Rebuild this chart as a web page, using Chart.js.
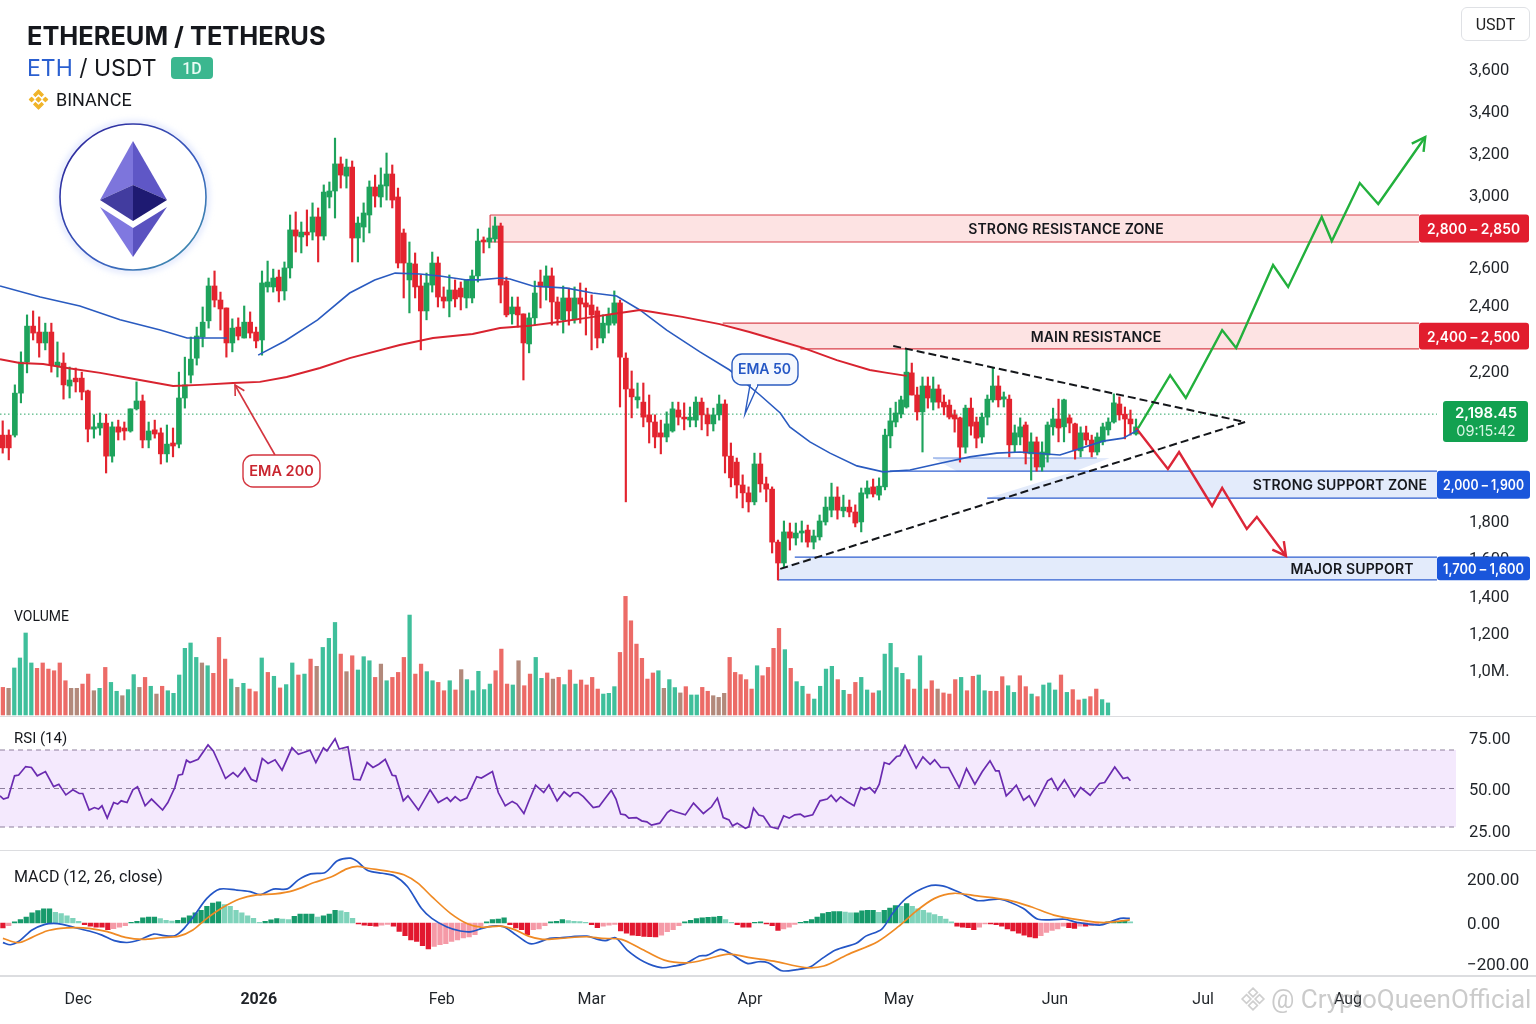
<!DOCTYPE html>
<html>
<head>
<meta charset="utf-8">
<title>ETH / USDT</title>
<script src="https://cdn.jsdelivr.net/npm/chart.js@4/dist/chart.umd.min.js"></script>
<style>
  html, body { margin: 0; padding: 0; background: #fff; }
  #page { position: relative; width: 1536px; height: 1024px; overflow: hidden; font-family: Inter, Roboto, sans-serif; color: #16181d; }
  #page canvas { position: absolute; left: 0; top: 0; }
  .rule { position: absolute; left: 0; width: 1536px; height: 1px; background: #dcdde0; }
  .txt { position: absolute; white-space: nowrap; line-height: 1; }
  #usdt { position: absolute; left: 1461px; top: 7px; width: 67px; height: 32px; border: 1px solid #dfe1e5; border-radius: 6px; text-align: center; font: 16px/33px Roboto, sans-serif; color: #222; }
  #tf { position: absolute; left: 171px; top: 57px; width: 42px; height: 22px; background: #3bb78f; border-radius: 4px; color: #e8fbf4; text-align: center; font: 500 16px/23px Roboto, sans-serif; }
</style>
</head>
<body>
<div id="page">
  <canvas id="priceChart" width="1536" height="1024"></canvas>
  <canvas id="volumeChart" width="1536" height="1024"></canvas>
  <canvas id="rsiChart" width="1536" height="1024"></canvas>
  <canvas id="macdChart" width="1536" height="1024"></canvas>

  <div class="rule" style="top:716px"></div>
  <div class="rule" style="top:850px"></div>
  <div class="rule" style="top:975px;height:2px"></div>

  <div class="txt" style="left:27px;top:23px;font-size:25.4px;font-weight:700;">ETHEREUM / TETHERUS</div>
  <div class="txt" style="left:27px;top:57px;font-size:23px;font-weight:400;"><span style="color:#2a5fd0">ETH</span> / USDT</div>
  <div id="tf">1D</div>
  <svg style="position:absolute;left:27px;top:88px" width="23" height="23" viewBox="0 0 24 24">
    <g fill="#f0b429" stroke="#f0b429" stroke-width="1.200" stroke-linejoin="round">
      <path d="M12 2l5 5-1.800 1.800L12 5.600 8.800 8.800 7 7z"/>
      <path d="M12 22l-5-5 1.800-1.800 3.200 3.200 3.200-3.200L17 17z"/>
      <path d="M2.500 12l2.300-2.300L7.100 12l-2.300 2.300z"/>
      <path d="M21.500 12l-2.300 2.300-2.300-2.300 2.300-2.300z"/>
      <path d="M12 9.500l2.500 2.500-2.500 2.500L9.500 12z"/>
    </g>
  </svg>
  <div class="txt" style="left:56px;top:91px;font:18px Roboto,sans-serif;line-height:1;">BINANCE</div>
  <div id="usdt">USDT</div>

  <svg style="position:absolute;left:50px;top:114px" width="166" height="166" viewBox="50 114 166 166">
    <defs>
      <linearGradient id="ring" x1="0" y1="0" x2="1" y2="1">
        <stop offset="0" stop-color="#2b1f96"/><stop offset=".6" stop-color="#3a5fc0"/><stop offset="1" stop-color="#3f9aa8"/>
      </linearGradient>
      <filter id="glow" x="-20%" y="-20%" width="140%" height="140%">
        <feGaussianBlur stdDeviation="3"/>
      </filter>
    </defs>
    <circle cx="133" cy="197" r="74" fill="none" stroke="#c9d4fb" stroke-width="3" filter="url(#glow)"/>
    <circle cx="133" cy="197" r="73" fill="#fff" stroke="url(#ring)" stroke-width="1.600"/>
    <polygon points="133,141 100,200 133,185" fill="#7d75dc"/>
    <polygon points="133,141 167,200 133,185" fill="#5f57c6"/>
    <polygon points="100,200 133,185 133,221" fill="#423c9f"/>
    <polygon points="167,200 133,185 133,221" fill="#1e1a72"/>
    <polygon points="100,207 133,228 133,257" fill="#8078e0"/>
    <polygon points="167,207 133,228 133,257" fill="#5a52c0"/>
  </svg>

  <div class="txt" style="left:14px;top:609px;font:14px Roboto,sans-serif;line-height:1;">VOLUME</div>
  <div class="txt" style="left:14px;top:731px;font:15px Roboto,sans-serif;line-height:1;">RSI (14)</div>
  <div class="txt" style="left:14px;top:869px;font:16px Roboto,sans-serif;line-height:1;">MACD (12, 26, close)</div>

  <svg style="position:absolute;left:1240px;top:986px" width="26" height="26" viewBox="0 0 24 24" fill="none" stroke="#cfcfcf" stroke-width="1.600">
    <path d="M12 2l4 4-4 4-4-4zM6 8l4 4-4 4-4-4zM18 8l4 4-4 4-4-4zM12 14l4 4-4 4-4-4z"/>
  </svg>
  <div class="txt" style="left:1271px;top:986px;font:26px Roboto,sans-serif;line-height:1;color:rgba(130,130,130,.42);">@ CryptoQueenOfficial</div>
</div>

<script>
// Candles, one row per ten days.
const candleOpen = [
  2029,2029,2029,2141,2227,2336,2318,2285,2318,2215,
  2224,2160,2181,2181,2147,2045,2048,2061,1973,2051,
  2048,2040,2099,2120,2016,2043,2035,1979,2008,2005,
  2128,2189,2239,2303,2352,2500,2426,2391,2285,2333,
  2300,2348,2318,2294,2495,2495,2547,2474,2595,2806,
  2767,2794,2794,2878,2772,2989,3019,3148,3090,3133,
  2761,2822,2889,3038,2989,3043,3100,2989,2789,2532,
  2617,2500,2382,2505,2622,2442,2421,2479,2489,2437,
  2437,2553,2750,2739,2756,2828,2526,2373,2394,2373,
  2282,2361,2521,2495,2553,2416,2355,2437,2355,2437,
  2411,2400,2382,2300,2339,2345,2411,2239,2152,2123,
  2117,2083,2064,2035,2024,2040,2096,2077,2069,2069,
  2117,2083,2059,2083,2112,1973,1957,1896,1875,1851,
  1952,1899,1885,1686,1573,1741,1708,1735,1751,1686,
  1714,1795,1829,1864,1827,1837,1824,1795,1872,1891,
  1869,1891,2027,2064,2085,2104,2195,2136,2091,2160,
  2117,2152,2117,2109,2083,2075,1997,2101,2064,2024,
  2077,2123,2160,2125,2125,2003,2024,2056,1979,2011,
  1944,1976,2051,2072,2051,2075,2059,1987,2035,2016,
  1984,2011,2043,2064,2112,2085,2072,2032
];
const candleHigh = [
  2067,2043,2163,2258,2370,2382,2364,2345,2345,2288,
  2255,2212,2209,2197,2149,2083,2088,2085,2064,2069,
  2064,2099,2171,2136,2064,2069,2048,2056,2048,2197,
  2242,2303,2333,2394,2542,2579,2468,2391,2358,2361,
  2397,2379,2333,2579,2633,2589,2584,2628,2889,2906,
  2850,2917,2956,2928,3048,3062,3271,3181,3171,3162,
  2878,2956,3067,3095,3129,3200,3143,3033,2811,2739,
  2678,2558,2568,2683,2656,2495,2558,2532,2521,2532,
  2584,2811,2767,2817,2878,2844,2547,2442,2442,2373,
  2376,2526,2584,2606,2595,2442,2500,2489,2495,2516,
  2489,2453,2394,2370,2391,2474,2426,2255,2200,2168,
  2168,2136,2083,2069,2091,2117,2117,2115,2104,2131,
  2128,2101,2101,2136,2123,2008,1968,1923,1891,1981,
  1981,1917,1891,1697,1800,1789,1789,1800,1778,1751,
  1816,1864,1901,1891,1869,1856,1843,1888,1907,1912,
  1915,2045,2101,2117,2133,2264,2224,2157,2184,2184,
  2184,2163,2136,2123,2096,2077,2109,2128,2077,2088,
  2136,2209,2187,2144,2136,2056,2075,2064,2035,2024,
  2011,2064,2101,2125,2125,2083,2061,2051,2053,2029,
  2035,2061,2075,2139,2131,2104,2096,2072
];
const candleLow = [
  1981,1963,2024,2115,2195,2294,2242,2264,2197,2184,
  2125,2128,2144,2123,2011,2021,2029,1928,1957,2016,
  2016,2037,2096,1995,1995,2021,1952,1957,1971,1995,
  2101,2168,2218,2273,2330,2394,2324,2242,2258,2294,
  2300,2300,2270,2248,2468,2468,2416,2426,2542,2683,
  2678,2717,2750,2628,2750,2928,2872,3033,3033,2628,
  2628,2739,2789,2933,2933,2972,2928,2595,2437,2376,
  2437,2264,2355,2468,2394,2391,2364,2394,2385,2391,
  2411,2521,2678,2706,2739,2411,2364,2342,2333,2176,
  2255,2339,2391,2426,2339,2339,2315,2339,2345,2345,
  2309,2264,2270,2285,2315,2339,2104,1851,2075,2101,
  2051,2008,1995,1979,2011,2037,2056,2043,2051,2051,
  2043,2027,2040,2069,1928,1891,1861,1835,1824,1843,
  1877,1851,1627,1481,1551,1643,1670,1686,1659,1649,
  1697,1778,1811,1805,1811,1811,1768,1741,1861,1864,
  1856,1883,1995,2051,2075,2101,2136,2069,1984,2101,
  2096,2101,2083,2072,2037,1957,1981,2029,1995,2008,
  2056,2117,2104,2104,1971,1984,2003,1952,1909,1933,
  1933,1957,2029,2011,2011,2035,1965,1971,2003,1971,
  1976,2003,2029,2061,2069,2019,2029,2029
];
const candleClose = [
  1995,1995,2141,2227,2336,2315,2285,2318,2218,2227,
  2163,2176,2171,2144,2045,2051,2061,1973,2051,2037,
  2040,2099,2120,2016,2040,2032,1979,2005,2000,2128,
  2163,2236,2306,2348,2500,2426,2388,2285,2330,2306,
  2348,2315,2291,2516,2521,2542,2474,2595,2806,2772,
  2794,2778,2878,2772,3014,3019,3148,3095,3133,2761,
  2844,2900,3038,2994,3048,3100,2972,2622,2622,2622,
  2495,2382,2516,2622,2442,2421,2479,2432,2442,2532,
  2553,2744,2739,2761,2828,2505,2370,2394,2370,2285,
  2361,2463,2495,2553,2416,2358,2437,2382,2437,2405,
  2394,2370,2300,2345,2370,2411,2242,2152,2131,2131,
  2077,2064,2024,2024,2059,2099,2077,2072,2077,2117,
  2083,2059,2083,2112,1973,1915,1896,1875,1851,1952,
  1899,1885,1686,1573,1741,1708,1735,1746,1686,1719,
  1800,1837,1864,1829,1837,1824,1789,1875,1888,1872,
  1893,2029,2067,2088,2123,2197,2136,2091,2160,2128,
  2152,2117,2104,2077,2072,1997,2101,2053,2021,2077,
  2125,2160,2123,2131,2003,2035,2051,1981,2011,1944,
  1984,2056,2072,2048,2123,2061,1989,2035,2016,1984,
  2024,2051,2064,2115,2083,2072,2059,2051
];

const ema50Index = [-0.5,6.4,13.2,20.1,27,31.6,38.4,39,43.8,48.4,54,59.5,63.8,67.3,71.5,75,79.6,81.8,85.3,87,90.9,96.8,101.2,105.3,109.3,113.9,119.6,124.7,129.9,133.4,135.1,138.7,142.3,147.1,151.8,156.6,161.4,167.3,172.1,176.3,183.4,191.1,194.7,197.4];
const ema50Values = [2500,2442,2397,2355,2324,2300,2300,null,2248,2291,2355,2463,2532,2568,2563,2553,2532,2532,2542,2537,2500,2489,2463,2447,2385,2324,2258,2203,2136,2088,2051,2011,1981,1947,1931,1936,1952,1971,1981,1984,1976,2013,2021,2043];
const ema200Index = [-0.5,2.9,6.9,11,16.7,23.5,29.2,33.8,39.5,44.1,48.7,54.4,59.5,68.1,73.8,80.6,85.3,89.9,95,100.2,104.6,107,109.3,111.5,116.6,123,128.1,131.6,137.5,143.5,149.4,152.5,156];
const ema200Values = [2236,2224,2221,2209,2195,2176,2160,2163,2168,2171,2184,2209,2239,2279,2300,2312,2330,2336,2348,2361,2373,2379,2385,2379,2364,2342,2318,2300,2270,2233,2203,2195,2187];

const wedgeUpperIndex = [153.6,216.5];
const wedgeUpperValues = [2276,2064];
const wedgeLowerIndex = [133.4,216.5];
const wedgeLowerValues = [1541,2064];

const bullPathIndex = [197.4,203.1,205.9,212.4,214.9,221.5,224.2,230.2,232,237,240.3,248.7];
const bullPathValues = [2048,2189,2128,2324,2270,2611,2495,2878,2744,3057,2950,3276];
const bearPathIndex = [197,202.7,204.7,210.6,212.4,216.8,218.6,223.8];
const bearPathValues = [2048,1939,1984,1840,1888,1757,1811,1611];

const zoneNames = ['STRONG RESISTANCE ZONE','MAIN RESISTANCE','STRONG SUPPORT ZONE','MAJOR SUPPORT'];
const zoneRanges = ['2,800 – 2,850','2,400 – 2,500','2,000 – 1,900','1,700 – 1,600'];
const zoneHigh = [2889,2345,1933,1605];
const zoneLow = [2739,2267,1861,1482];
const zoneHighFrom = [83.6,123.5,153,136];
const zoneLowFrom = [83.6,137,170.4,133];
const zoneTo = [247.6,247.6,250.8,250.8];

const priceLevel = 2085;
const lastPriceText = '2,198.45';
const countdownText = '09:15:42';

const priceTicks = [3600,3400,3200,3000,2800,2600,2400,2200,1800,1600];
const priceTickLabels = ['3,600','3,400','3,200','3,000','2,800','2,600','2,400','2,200','1,800','1,600'];

const monthTicks = [12.9,43.9,75.3,101,128.2,154.6,182.5,209,234.9];
const monthLabels = ['Dec','2026','Feb','Mar','Apr','May','Jun','Jul','Aug'];

const volumeValues = [
  906,901,1011,1065,1200,1038,1009,1038,1005,996,
  1038,942,901,901,924,978,888,901,1014,933,
  885,861,894,975,906,960,912,870,912,888,
  874,973,1117,1146,1068,1038,1023,982,1176,1059,
  951,906,928,897,883,1065,987,966,903,921,
  1038,973,978,1059,1020,1122,1171,1257,1086,991,
  1077,1000,1072,1050,960,1032,942,960,987,1068,
  1297,978,1032,991,942,933,888,942,892,1002,
  948,888,993,894,924,996,1113,924,919,1050,
  915,978,1068,955,984,951,960,921,1000,924,
  946,919,960,897,870,874,910,1095,1398,1266,
  1140,1063,951,984,996,901,948,905,876,910,
  865,865,906,885,861,852,874,1068,987,975,
  948,897,1023,969,1014,1117,1225,1110,1009,937,
  912,870,843,912,1005,1020,948,890,869,933,
  960,892,876,888,1086,1144,1013,982,948,897,
  1077,897,942,897,876,870,948,960,888,966,
  973,888,885,885,964,915,879,969,910,870,
  856,919,930,892,973,879,894,838,843,856,
  897,840,822
];
// G green, R red, B the muddy bars where both colours blend
const volumeSides = 'RBGGGGRRRRRRBBRRBGRGGBGGBRGBRGGGGGGBGRRRGBGRRGRGRGGRGRBGGGRBRGGGRBGRRRGRRGGRRGRBGGGGGRRRGBRRGGRBRGRGRRRRGGGRRRRRRRGBGGBRGGRRBBBRRRRRGRRRRGRGGRGGGGRGRRGGRGGGGGRRGRRBRRRGRRGGRRRGGRRGRGGGRGRRGRRGGB';
const volumeTicks = [1400,1200,1000];
const volumeTickLabels = ['1,400','1,200','1,0M.'];
const volumeFloor = 757;

const rsiIndex = [-0.5,0.1,0.9,2,2.7,3.9,4.9,5.9,7.3,8.7,9.6,10.8,12,13.1,13.7,14.8,15.7,16.4,17,17.9,19,19.7,20.3,21.3,22.3,23.1,24.4,25.5,27.4,28.3,29.5,30.1,30.8,31.5,32.1,33.5,35.2,36.1,37,38.2,39.5,40.3,41.5,42.6,43.5,44.5,45.5,46.7,47.9,49.6,50.7,51.6,52.7,53.7,55,55.6,57,57.7,59.2,60.2,61.3,62.5,63.5,64.5,65.6,66.8,67.4,68.7,69.5,71.3,73.3,74.7,76.2,76.8,77.6,78.5,79.6,81.3,82.1,84,85,86.2,87.4,88.2,89.4,90.2,91.4,92.8,93.7,95.1,96.3,97.3,97.9,98.7,99.6,101.3,102.3,103.1,104.4,105.2,106,106.8,107.4,108.7,109.6,110.5,111.3,112.7,114,114.6,115.4,117.1,118.5,120.2,121.6,122.6,123.6,124.6,125.2,126,127.4,128,128.8,129.7,130.5,131.7,133,134,135,136,137,137.7,139.2,140.5,141.8,142.5,143.4,144.2,145.4,146.6,147.8,148.5,149.4,150.3,151.1,152,152.9,154.2,154.8,155.7,157.7,158.9,160.2,161,162.1,163.5,165.4,166.7,168.2,169.5,170.9,171.9,172.5,173.8,174.7,175.6,176.9,177.9,178.9,181.2,181.9,183,184.2,186,187.1,188.8,190.5,191.4,193.2,194.7,195.5,196];
const rsiValues = [46.2,44.5,45.3,56.6,57,61.4,60.9,56.6,58.8,51,52.2,46.7,49.3,47.4,47.4,38.8,40.1,39.3,41,34.6,42.7,41.9,43.6,42.7,49.3,50.9,41,44.5,38.8,42.7,50.5,56.9,57.4,64.7,63.5,65.2,72.1,69.5,63.5,55.2,58.3,56.1,60.6,54.8,53.6,65.6,63,64.9,59.5,70.9,67.8,68.7,69.9,63.5,70.9,69.5,74.7,70.4,71.3,54.8,54.5,63.5,60.9,62.6,65.1,56.9,56.6,43.6,46.2,38.8,49.3,42.7,45.3,43.3,45.8,43.6,45,56.1,55.4,58.8,47.9,41,43.3,41.9,37,43.1,51.7,47.9,51.9,43.6,48.3,45.8,47.8,47.9,45.8,40.1,40.7,43.9,49.1,44.5,36.7,36.3,34.6,34.9,33.2,32.7,31,32,37.5,38.8,37.9,36.3,42.4,37,40.5,45,34.9,33.7,30.6,32,28.4,30.1,39.8,36.2,35.6,30.1,27.7,35.8,34.6,36.3,36.7,35.3,36.3,43.6,44.5,46.5,43.3,45.7,43.1,41,50.5,49.3,50.5,47.8,52.2,63.5,62.6,66.6,67,71.8,60.6,66.4,62.6,64.9,60.9,60.9,50.5,60.4,52.2,58.7,64.4,59.2,59.2,46.2,48.8,51.7,43.9,46.2,41,54,55.2,49.3,54.5,45.7,50.5,46.5,52.6,53.1,61.2,55.2,55.7,54];
const rsiLevels = [70,50,30];
const rsiTicks = [75,50,25];
const rsiTickLabels = ['75.00','50.00','25.00'];

const macdIndex = [0,1.3,2.9,5,7.2,8.7,10.2,12.4,14.8,17,19.1,21.3,23.4,25.9,27.7,29.5,31.1,32.9,35,37.2,40,42.4,44.2,46.4,48.8,50.7,52.8,55.3,57.4,59.6,60.8,62.6,65.1,67.2,69.4,71.8,73.6,76.1,78.5,80.4,82.2,84,85.9,87.7,90.2,91.4,93.8,95.6,97.5,100.2,102.1,103.4,105.1,107.1,110,113,115.3,117.2,119.5,120.8,123.1,124.8,127.7,129.7,131.3,133.7,136.4,138.8,140.5,143.3,147,148.7,151.5,153.5,155.9,159.7,162.4,165.1,168.6,172.7,176.8,179.5,184.3,186.4,190.5,192.5,194.2,195.9];
const macdValues = [-96,-106,-86,-34,-7,-2,-7,-23,-39,-59,-86,-95,-83,-54,-62,-62,-26,36,112,154,150,143,129,154,155,196,223,230,283,295,280,239,226,214,166,67,21,-18,-39,-42,-26,-15,-18,-51,-99,-99,-75,-72,-67,-64,-80,-86,-72,-132,-189,-218,-209,-197,-161,-158,-129,-148,-197,-189,-194,-233,-227,-214,-181,-132,-99,-64,-31,44,112,166,169,143,102,108,67,17,17,3,-10,6,21,21];
const signalIndex = [0,2.6,5,7.5,9.9,12.4,14.8,17.9,21,24,27.1,30.2,32.6,35,37.5,40.6,43.6,46.7,49.8,53.4,56.5,59,60.8,62.6,66.4,68.8,71.2,73.6,76.8,79.8,82.2,85.3,87.7,90.2,92.6,95.6,100.2,102.8,106.1,109.4,113.5,117.6,121.2,124.5,128.4,132.3,137.8,141.2,145.3,150.8,154.5,157.6,161,164.4,168.6,174,178.2,182.3,187,191.2,195.9];
const signalValues = [-75,-96,-70,-39,-26,-23,-26,-42,-70,-80,-72,-64,-34,21,67,109,128,132,147,184,211,246,257,249,234,219,181,120,44,-5,-21,-15,-31,-64,-80,-75,-67,-75,-80,-124,-181,-194,-173,-152,-170,-186,-217,-210,-156,-91,-18,52,112,135,123,105,74,36,14,2,14];
const histValues = [
  -24,-13,5,15,27,46,56,64,64,49,
  43,33,21,8,-8,-16,-20,-20,-33,-28,
  -20,-13,3,8,23,27,27,20,12,9,
  12,23,33,46,58,76,91,96,84,76,
  58,46,33,21,3,8,14,20,18,15,
  30,40,40,40,27,33,40,58,55,49,
  21,-5,-11,-13,-16,-11,-7,-16,-41,-62,
  -82,-90,-111,-127,-114,-106,-101,-90,-82,-73,
  -68,-57,-16,5,15,18,23,-8,-24,-33,
  -57,-33,-29,-13,5,8,15,11,8,6,
  3,-8,-23,-16,-10,-7,-39,-49,-59,-62,
  -65,-67,-68,-59,-42,-33,-13,5,12,20,
  24,26,27,30,15,3,-8,-20,-20,3,
  5,-5,-13,-36,-29,-20,-7,3,8,15,
  27,43,49,52,52,50,46,46,55,58,
  58,49,58,68,79,76,88,76,64,58,
  46,38,30,18,5,-16,-20,-23,-33,-20,
  -5,-5,-8,-16,-29,-39,-49,-59,-68,-73,
  -62,-46,-36,-29,-16,-23,-26,-16,-16,-13,
  -8,3,5,5,8,9,5
];
const macdTicks = [200,0,-200];
const macdTickLabels = ['200.00','0.00','−200.00'];

// value -> page pixel, the axes of the picture are not evenly spaced
const axisKnots = {
  x: [[-0.5,0],[133,778],[197,1136],[254.2,1456]],
  candleX: [[-0.5,-0.2],[0,2.7],[28,173],[43,262],[56,335],[67,398],[85,500.7],[106,620],[124,725],[133,778],[151,885],[165,960],[184,1064],[197,1136]],
  volumeX: [[0,2.9],[38,219],[57,335],[70,409.6],[97,564.4],[108,625.5],[136,779],[192,1108]],
  price: [[3800,27],[3600,69],[3400,111],[3200,153],[3000,195],[2800,231],[2600,267],[2400,305],[2200,371],[1800,521],[1600,558]],
  volume: [[1400,596],[1200,633],[1000,670]],
  rsi: [[75,738],[70,750],[30,827],[25,831]],
  macd: [[200,879],[0,923],[-200,964]]
};

class PiecewiseScale extends Chart.LinearScale {
  getPixelForValue(value) {
    if (value === null || value === undefined || isNaN(value)) return NaN;
    const k = axisKnots[this.id];
    const up = k[0][0] < k[k.length - 1][0];
    let i = 0;
    while (i < k.length - 2 && (up ? value > k[i + 1][0] : value < k[i + 1][0])) i++;
    const a = k[i], b = k[i + 1];
    return a[1] + (value - a[0]) * (b[1] - a[1]) / (b[0] - a[0]);
  }
  getValueForPixel(pixel) {
    const k = axisKnots[this.id];
    let i = 0;
    while (i < k.length - 2 && pixel > k[i + 1][1]) i++;
    const a = k[i], b = k[i + 1];
    return a[0] + (pixel - a[1]) * (b[0] - a[0]) / (b[1] - a[1]);
  }
}
PiecewiseScale.id = 'piecewise';
PiecewiseScale.defaults = Chart.LinearScale.defaults;
Chart.register(PiecewiseScale);

const RED = '#e3242f';
const GREEN = '#1ea35c';
const TICK_COLOR = '#1f2328';

function xAxis(show) {
  return {
    type: 'piecewise', axis: 'x', min: -0.5, max: 254.2, display: show,
    grid: { display: false, drawTicks: false },
    border: { display: false },
    afterFit: s => { s.height = 49; },
    afterBuildTicks: s => { s.ticks = monthTicks.map(v => ({ value: v })); },
    ticks: {
      autoSkip: false, maxRotation: 0, padding: 15, color: TICK_COLOR,
      font: c => ({ family: 'Roboto', size: 16, weight: c.index === 1 ? '700' : '400' }),
      callback: (v, i) => monthLabels[i]
    }
  };
}

function yAxis(min, max, ticks, labels, padding, size) {
  return {
    type: 'piecewise', axis: 'y', position: 'right', min, max,
    grid: { display: false, drawTicks: false },
    border: { display: false },
    afterFit: s => { s.width = 80; },
    afterBuildTicks: s => { s.ticks = ticks.map(v => ({ value: v })); },
    ticks: {
      autoSkip: false, padding, color: TICK_COLOR, labelOffset: 2,
      font: { family: 'Roboto', size: size || 16.5 },
      callback: (v, i) => labels[i]
    }
  };
}

function baseOptions(yId, yOpts, showX, xId) {
  return {
    responsive: false,
    animation: false,
    events: [],
    layout: { padding: 0 },
    plugins: { legend: { display: false }, tooltip: { enabled: false } },
    scales: { [xId || 'x']: xAxis(showX), [yId]: yOpts }
  };
}

function lineSet(yId, xs, ys, color, width, extra) {
  return Object.assign({
    type: 'line',
    yAxisID: yId,
    data: xs.map((x, i) => ({ x, y: ys[i] })),
    borderColor: color,
    borderWidth: width,
    pointRadius: 0,
    tension: 0,
    spanGaps: false,
    order: 0
  }, extra || {});
}

function roundBox(ctx, x, y, w, h, r, fill, stroke) {
  ctx.beginPath();
  ctx.roundRect(x, y, w, h, r);
  if (fill) { ctx.fillStyle = fill; ctx.fill(); }
  if (stroke) { ctx.strokeStyle = stroke; ctx.stroke(); }
}

function arrowHead(ctx, fromX, fromY, toX, toY, size, color, width) {
  const a = Math.atan2(toY - fromY, toX - fromX);
  ctx.strokeStyle = color;
  ctx.lineWidth = width;
  ctx.beginPath();
  ctx.moveTo(toX - size * Math.cos(a - 0.5), toY - size * Math.sin(a - 0.5));
  ctx.lineTo(toX, toY);
  ctx.lineTo(toX - size * Math.cos(a + 0.5), toY - size * Math.sin(a + 0.5));
  ctx.stroke();
}

// Price zones sit under the candles
const zonesPlugin = {
  id: 'zones',
  beforeDatasetsDraw(chart) {
    const { ctx, scales } = chart;
    const X = v => scales.x.getPixelForValue(v);
    const Y = v => scales.price.getPixelForValue(v);
    const hLine = (from, to, value, color) => {
      ctx.strokeStyle = color;
      ctx.lineWidth = 1.2;
      ctx.beginPath();
      ctx.moveTo(X(from), Y(value));
      ctx.lineTo(X(to), Y(value));
      ctx.stroke();
    };
    const poly = (pts, fill) => {
      ctx.fillStyle = fill;
      ctx.beginPath();
      pts.forEach((p, i) => i ? ctx.lineTo(X(p[0]), Y(p[1])) : ctx.moveTo(X(p[0]), Y(p[1])));
      ctx.closePath();
      ctx.fill();
    };
    ctx.save();
    poly([[zoneHighFrom[0], zoneHigh[0]], [zoneTo[0], zoneHigh[0]], [zoneTo[0], zoneLow[0]], [zoneLowFrom[0], zoneLow[0]]], '#fde3e3');
    poly([[zoneHighFrom[1], zoneHigh[1]], [zoneTo[1], zoneHigh[1]], [zoneTo[1], zoneLow[1]], [zoneLowFrom[1], zoneLow[1]]], '#fde3e3');
    poly([[zoneLowFrom[2], zoneLow[2]], [186.1, zoneHigh[2]], [zoneTo[2], zoneHigh[2]], [zoneTo[2], zoneLow[2]]], '#e3ebfb');
    poly([[zoneLowFrom[3], zoneLow[3]], [zoneLowFrom[3], 1541], [138.7, zoneHigh[3]], [zoneTo[3], zoneHigh[3]], [zoneTo[3], zoneLow[3]]], '#e3ebfb');
    poly([[160.7, 1968], [192.3, 1968], [186.1, 1933], [165, 1933]], '#e3ebfb');
    hLine(160.7, 190, 1968, '#6f94e0');
    [0, 1, 2, 3].forEach(i => {
      const c = i < 2 ? '#d9404a' : '#2f5fd0';
      hLine(zoneHighFrom[i], zoneTo[i], zoneHigh[i], c);
      hLine(zoneLowFrom[i], zoneTo[i], zoneLow[i], c);
    });
    // left edges of the first and last zone
    ctx.strokeStyle = '#d9404a';
    ctx.beginPath();
    ctx.moveTo(X(zoneHighFrom[0]), Y(zoneHigh[0]));
    ctx.lineTo(X(zoneLowFrom[0]), Y(zoneLow[0]));
    ctx.stroke();
    ctx.strokeStyle = '#e3242f';
    ctx.beginPath();
    ctx.moveTo(X(zoneLowFrom[3]), Y(1541));
    ctx.lineTo(X(zoneLowFrom[3]), Y(zoneLow[3]));
    ctx.stroke();
    ctx.restore();
  },
  afterDraw(chart) {
    const { ctx, scales } = chart;
    const X = v => scales.x.getPixelForValue(v);
    const Y = v => scales.price.getPixelForValue(v);
    ctx.save();
    ctx.textBaseline = 'middle';

    // arrow tips
    const tip = (xs, ys, size, color) => {
      const n = xs.length - 1;
      arrowHead(ctx, X(xs[n - 1]), Y(ys[n - 1]), X(xs[n]), Y(ys[n]), size, color, 2.4);
    };
    tip(bullPathIndex, bullPathValues, 15, '#22b03c');
    tip(bearPathIndex, bearPathValues, 15, '#dc2638');

    // zone captions and tags
    const nameX = [1066, 1096, 1340, 1352];
    const tagX = [1419, 1419, 1437, 1437];
    const tagW = [110, 110, 93, 93];
    const rangeW = [93, 93, 81, 81];
    zoneNames.forEach((name, i) => {
      const top = Y(zoneHigh[i]), bottom = Y(zoneLow[i]);
      const mid = (top + bottom) / 2 + 1.5;
      ctx.fillStyle = '#16181d';
      ctx.textAlign = 'center';
      ctx.font = '600 14px Inter, sans-serif';
      ctx.letterSpacing = '0.15px';
      ctx.fillText(name, nameX[i], mid);
      ctx.letterSpacing = '0px';
      roundBox(ctx, tagX[i], top - 0.5, tagW[i], bottom - top + 1, 3, i < 2 ? '#e11d2e' : '#1a56db');
      ctx.fillStyle = '#fff';
      ctx.font = '600 14.5px Inter, sans-serif';
      ctx.fillText(zoneRanges[i], tagX[i] + (i < 2 ? 54.5 : tagW[i] / 2), mid, rangeW[i]);
    });

    // last price tag
    roundBox(ctx, 1443, 401, 85, 41, 3, '#12a150');
    ctx.fillStyle = '#fff';
    ctx.textAlign = 'center';
    ctx.font = '600 15px Inter, sans-serif';
    ctx.fillText(lastPriceText, 1486, 413);
    ctx.fillStyle = '#d8f5e4';
    ctx.font = '14.5px Inter, sans-serif';
    ctx.fillText(countdownText, 1486, 432);

    // EMA 200 callout
    ctx.lineWidth = 1.6;
    ctx.strokeStyle = '#d4353f';
    ctx.beginPath();
    ctx.moveTo(275, 455);
    ctx.lineTo(235, 385);
    ctx.stroke();
    arrowHead(ctx, 275, 455, 235, 385, 11, '#d4353f', 1.6);
    ctx.lineWidth = 1.4;
    roundBox(ctx, 243, 455, 77, 32, 10, '#fff', '#d4353f');
    ctx.fillStyle = '#c9252f';
    ctx.font = '600 14.5px Inter, sans-serif';
    ctx.fillText('EMA 200', 281.5, 471.5);

    // EMA 50 callout
    ctx.strokeStyle = '#2a5bc0';
    ctx.lineWidth = 1.4;
    ctx.beginPath();
    ctx.moveTo(750, 385);
    ctx.lineTo(745, 414);
    ctx.lineTo(758, 385);
    ctx.stroke();
    roundBox(ctx, 732, 354, 66, 31, 10, '#f4f8fe', '#2a5bc0');
    ctx.fillStyle = '#f4f8fe';
    ctx.fillRect(751, 383, 6, 4);
    ctx.fillStyle = '#2457c5';
    ctx.font = '600 14px Inter, sans-serif';
    ctx.fillText('EMA 50', 764.5, 370);
    ctx.restore();
  }
};

const candleIndex = candleOpen.map((_, i) => i);
const candleColors = candleIndex.map(i => candleClose[i] >= candleOpen[i] ? GREEN : RED);

const priceOptions = baseOptions('price', yAxis(1300, 3900, priceTicks, priceTickLabels, 13), false);
priceOptions.scales.candleX = xAxis(false);

new Chart(document.getElementById('priceChart'), {
  type: 'bar',
  data: {
    datasets: [
      {
        xAxisID: 'candleX', yAxisID: 'price', order: 3, grouped: false, barThickness: 1.5, borderWidth: 0,
        backgroundColor: candleColors,
        data: candleIndex.map(i => ({ x: i, y: [candleLow[i], candleHigh[i]] }))
      },
      {
        xAxisID: 'candleX', yAxisID: 'price', order: 2, grouped: false, barThickness: 5, borderWidth: 0, minBarLength: 1.5,
        backgroundColor: candleColors,
        data: candleIndex.map(i => ({ x: i, y: [candleOpen[i], candleClose[i]] }))
      },
      lineSet('price', [-0.5, 250.8], [priceLevel, priceLevel], '#2aa565', 1, { borderDash: [1.5, 2.5], order: 4 }),
      lineSet('price', ema200Index, ema200Values, '#d8232f', 2),
      lineSet('price', ema50Index, ema50Values, '#2a5bc0', 1.6),
      lineSet('price', wedgeUpperIndex, wedgeUpperValues, '#14161a', 2, { borderDash: [8, 4] }),
      lineSet('price', wedgeLowerIndex, wedgeLowerValues, '#14161a', 2, { borderDash: [8, 4] }),
      lineSet('price', bullPathIndex, bullPathValues, '#22b03c', 2.4),
      lineSet('price', bearPathIndex, bearPathValues, '#dc2638', 2.4)
    ]
  },
  options: priceOptions,
  plugins: [zonesPlugin]
});

const volumeColors = { G: '#3fbf9b', R: '#ec6b67', B: '#b2897b' };

new Chart(document.getElementById('volumeChart'), {
  type: 'bar',
  data: {
    datasets: [{
      xAxisID: 'volumeX', yAxisID: 'volume', grouped: false, barThickness: 3.6, borderWidth: 0,
      backgroundColor: volumeValues.map((_, i) => volumeColors[volumeSides[i]] || volumeColors.G),
      data: volumeValues.map((v, i) => ({ x: i, y: [volumeFloor, v] }))
    }]
  },
  options: baseOptions('volume', yAxis(700, 1500, volumeTicks, volumeTickLabels, 13), false, 'volumeX')
});

const rsiBandPlugin = {
  id: 'rsiBand',
  beforeDatasetsDraw(chart) {
    const { ctx, scales, chartArea } = chart;
    const Y = v => scales.rsi.getPixelForValue(v);
    ctx.save();
    ctx.fillStyle = '#f4e9fd';
    ctx.fillRect(0, Y(rsiLevels[0]), chartArea.right, Y(rsiLevels[2]) - Y(rsiLevels[0]));
    ctx.strokeStyle = '#8d7f9c';
    ctx.lineWidth = 1;
    ctx.setLineDash([5, 4]);
    rsiLevels.forEach(v => {
      ctx.beginPath();
      ctx.moveTo(0, Y(v));
      ctx.lineTo(chartArea.right, Y(v));
      ctx.stroke();
    });
    ctx.restore();
  }
};

new Chart(document.getElementById('rsiChart'), {
  type: 'line',
  data: { datasets: [lineSet('rsi', rsiIndex, rsiValues, '#6a2bb0', 1.7)] },
  options: baseOptions('rsi', yAxis(20, 80, rsiTicks, rsiTickLabels, 13), false),
  plugins: [rsiBandPlugin]
});

// usual MACD colouring: strong while the bar grows away from zero, pale while it shrinks
const histColors = histValues.map((v, i) => {
  const prev = i ? histValues[i - 1] : 0;
  if (v >= 0) return v >= prev ? '#169a6b' : '#7fd3bb';
  return v <= prev ? '#e2172f' : '#f59aa7';
});

new Chart(document.getElementById('macdChart'), {
  type: 'bar',
  data: {
    datasets: [
      {
        yAxisID: 'macd', order: 2, grouped: false, barThickness: 4.6, borderWidth: 0,
        backgroundColor: histColors,
        data: histValues.map((v, i) => ({ x: i, y: v }))
      },
      lineSet('macd', macdIndex, macdValues, '#2456c6', 1.7, { order: 1, tension: 0.3 }),
      lineSet('macd', signalIndex, signalValues, '#ef8a24', 1.7, { order: 0, tension: 0.3 })
    ]
  },
  options: baseOptions('macd', yAxis(-300, 300, macdTicks, macdTickLabels, 11, 17), true)
});
</script>
</body>
</html>
